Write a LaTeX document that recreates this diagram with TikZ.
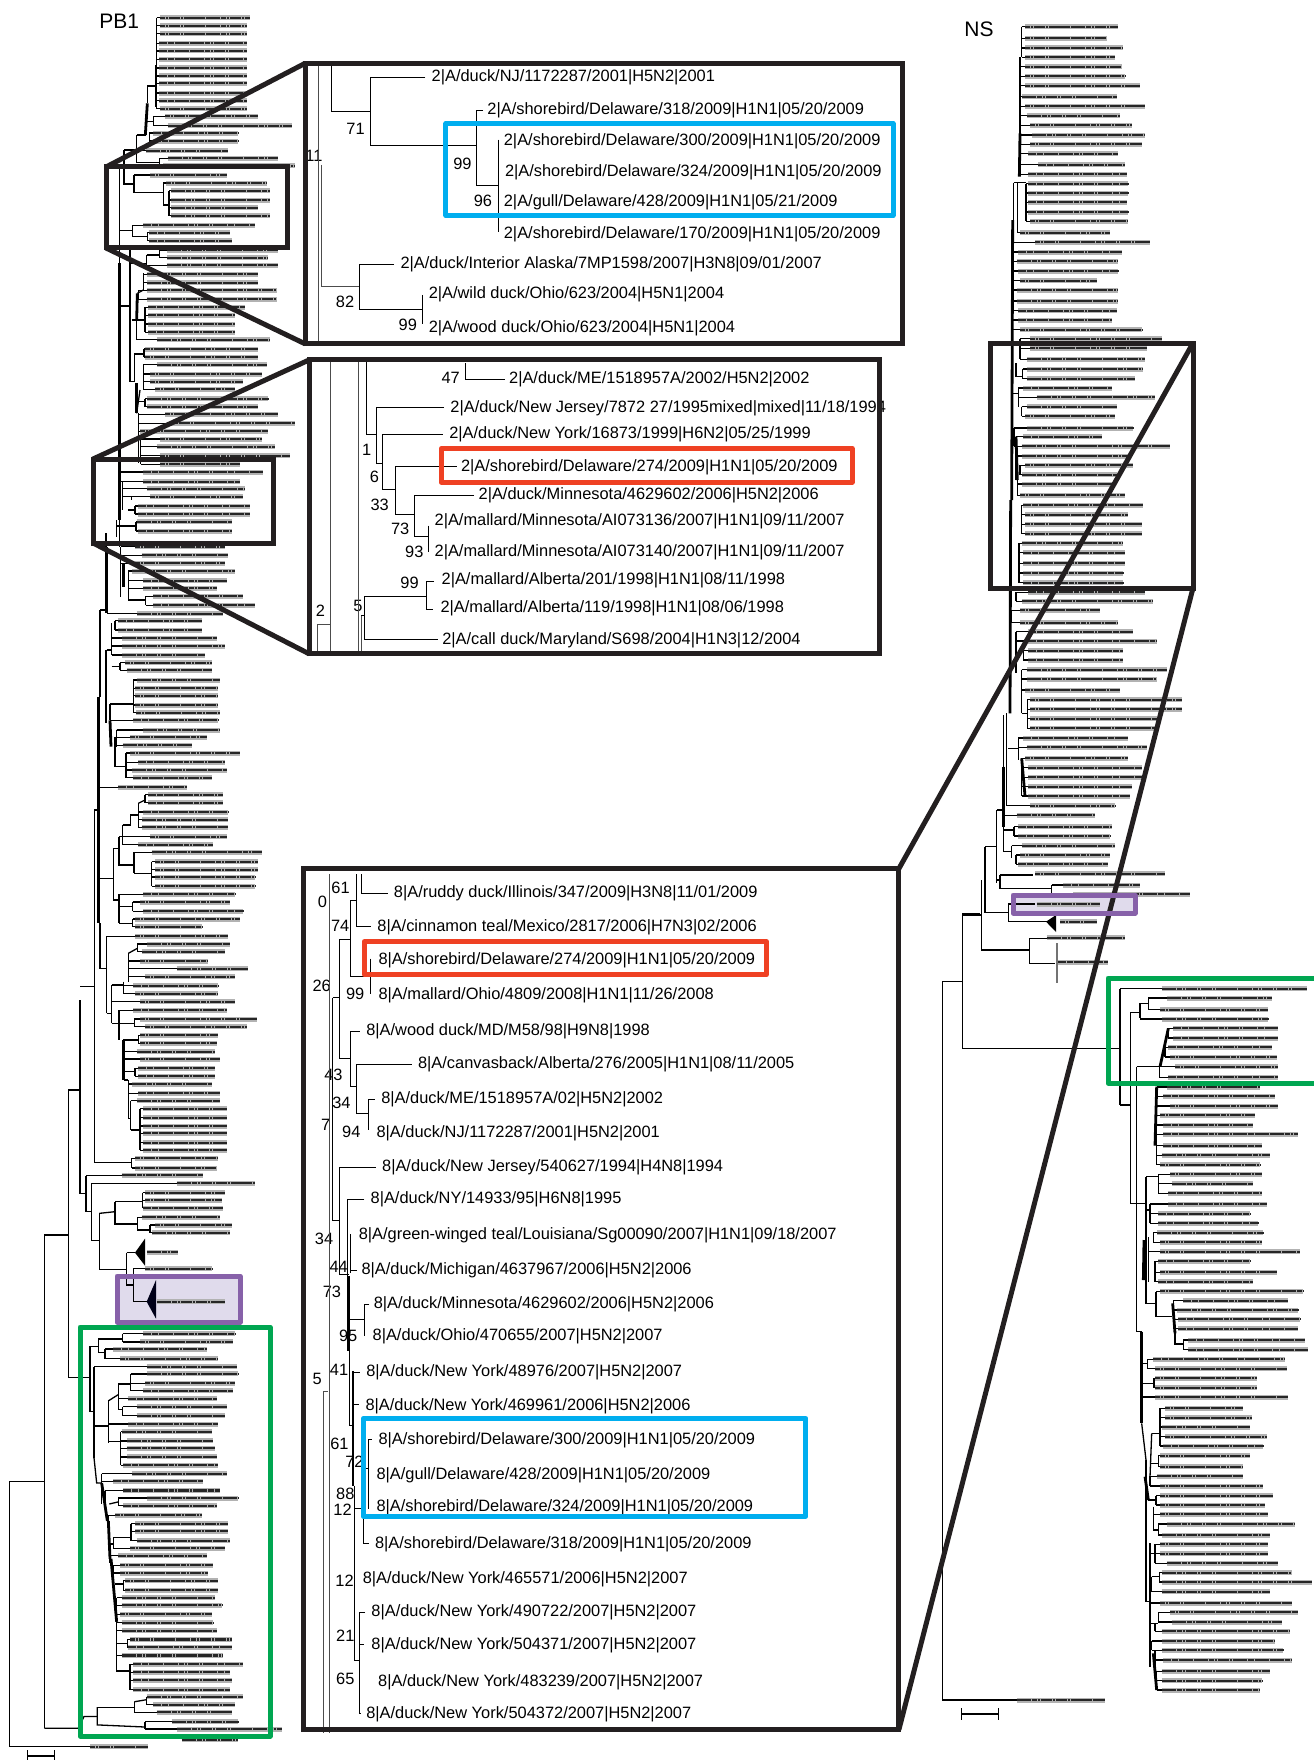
\documentclass[tikz,border=0pt]{standalone}
\usepackage{fontspec}
\setmainfont{Liberation Sans}

\definecolor{boxblack}{HTML}{231F20}
\definecolor{boxblue}{HTML}{00AEEF}
\definecolor{boxred}{HTML}{EF4123}
\definecolor{boxgreen}{HTML}{00A651}
\definecolor{boxpurple}{HTML}{8761A9}
\definecolor{boxlilac}{HTML}{E0DBEC}

\tikzset{
  zoomed/.style 2 args={shift={(#1*.5pt,#2*-.5pt)},x=.16667pt,y=-.16667pt},
  branch/.style={draw=black,line width=.65pt,line cap=square},
  heavy/.style={draw=black,line width=1.4pt},
  thin branch/.style={draw=black!70,line width=.35pt},
  blurtext/.style={draw=black!85,line width=1.05pt,dash pattern=on 2.6pt off .25pt on 1.2pt off .3pt on 3pt off .25pt,
    preaction={draw=black!30,line width=2.5pt,solid}},
  framed/.style={draw=boxblack,line width=2.5pt,line join=miter},
  taxon/.style={anchor=west,inner sep=0pt,yshift=-1pt,font=\fontsize{8.2}{9}\selectfont},
  support/.style={inner sep=0pt,yshift=-.5pt,font=\fontsize{8.2}{9}\selectfont},
  colourbox/.style={line width=2.5pt,line join=round},
  panel lines/.style={branch/.append style={line width=.5pt}},
}

\newcommand{\clade}[4]{%
  \draw[branch] (#1,#2) -- (#1,#3);
  \foreach \xs/\xe/\yy in {#4} {
    \draw[branch] (#1,\yy) -- (\xs,\yy);
    \draw[blurtext] (\xs,\yy) -- (\xe,\yy);
  }
}

\begin{document}
\begin{tikzpicture}[x=.5pt,y=-.5pt]
  \useasboundingbox (0,0) rectangle (1314,1760);

  \fill[boxlilac] (117,1276) rectangle (240,1322);
  \fill[boxlilac] (1013,895) rectangle (1135,913);

  \node[anchor=west,inner sep=0pt,font=\fontsize{10.5}{12}\selectfont] (pbtitle) at (99,21) {PB1};
  \node[anchor=west,inner sep=0pt,font=\fontsize{10.5}{12}\selectfont] (nstitle) at (964,29) {NS};

  % PB1, top
  \begin{scope}[zoomed={0}{0}]
    \clade{470}{53}{326}{480/750/53,480/740/77,480/740/101,478/740/130,478/740/153,478/740/178,478/740/204,478/740/228,478/740/250,478/740/279,478/740/302,480/740/326}
    \draw[heavy] (468,195) -- (468,320);
    \draw[branch] (468,258) -- (442,258) -- (442,310);
    \draw[heavy] (442,310) -- (436,405);
    \clade{460}{349}{377}{495/775/349,503/875/377}
    \draw[branch] (438,365) -- (460,365);
    \clade{448}{399}{423}{460/715/399,460/715/423}
    \draw[branch] (410,405) -- (438,405);
    \clade{410}{405}{488}{437/685/452}
    \draw[branch] (372,450) -- (410,450);
    \draw[branch] (410,488) -- (478,488);
    \clade{478}{475}{497}{503/835/475,490/885/497}
    \draw[branch] (358,500) -- (372,500);
    \draw[branch] (372,450) -- (372,552) -- (402,552);
    \clade{402}{525}{578}{450/680/525}
    \draw[branch] (402,578) -- (490,578);
    \clade{490}{549}{615}{498/800/549}
    \draw[branch] (490,615) -- (507,615);
    \clade{507}{572}{647}{512/810/572,512/810/600,512/775/623,512/810/647}
    \draw[branch] (358,500) -- (358,790);
    \draw[heavy] (358,790) -- (358,1560);
    \draw[branch] (358,692) -- (398,692);
    \clade{398}{676}{710}{430/765/676}
    \draw[branch] (398,710) -- (442,710);
    \clade{442}{698}{722}{448/690/698,448/695/722}
    \draw[branch] (360,918) -- (390,918);
    \draw[branch] (390,745) -- (390,1145) -- (403,1145);
    \draw[branch] (392,790) -- (440,790);
    \clade{478}{751}{773}{500/835/751,500/805/773}
    \draw[branch] (440,765) -- (478,765);
    \clade{440}{765}{796}{500/835/796}
    \clade{430}{820}{870}{440/775/823,440/775/848}
    \draw[branch] (430,870) -- (412,880);
    \draw[heavy] (412,880) -- (410,960);
    \clade{415}{871}{898}{440/830/871,440/830/898}
    \draw[branch] (395,960) -- (435,960);
    \clade{435}{922}{997}{445/735/922,445/705/946,445/705/972,445/705/997}
    \clade{410}{960}{1019}{470/810/1019}
    \clade{403}{1062}{1145}{}
    \draw[branch] (403,1062) -- (432,1062);
    \clade{432}{1047}{1071}{435/775/1047,435/775/1071}
    \draw[heavy] (410,1150) -- (410,1240);
    \draw[branch] (410,1240) -- (420,1170);
    \clade{430}{1094}{1168}{470/800/1094,450/785/1122,450/730/1145,465/705/1168}
    \draw[branch] (410,1205) -- (435,1205);
    \clade{435}{1196}{1220}{440/805/1196,440/775/1220}
    \clade{415}{1240}{1390}{495/835/1243,510/885/1270,420/805/1294}
    \clade{422}{1317}{1393}{480/785/1317,470/825/1340,480/870/1367,480/720/1393}
    \clade{360}{1416}{1445}{430/790/1416,430/720/1445}
    \clade{368}{1445}{1530}{440/735/1466}
    \draw[branch] (368,1490) -- (395,1490);
    \clade{395}{1490}{1500}{450/730/1490}
    \draw[branch] (385,1530) -- (405,1530);
    \clade{405}{1518}{1542}{415/750/1518,415/750/1542}
  \end{scope}

  % PB1, middle
  \begin{scope}[zoomed={0}{520}]
    \draw[branch] (350,0) -- (350,50);
    \draw[branch] (350,18) -- (408,18);
    \clade{408}{5}{33}{410/695/5,415/695/33}
    \draw[branch] (318,40) -- (318,280);
    \draw[branch] (358,0) -- (358,80);
    \clade{362}{80}{230}{405/675/80,425/685/106,405/675/130}
    \draw[heavy] (370,130) -- (370,200);
    \clade{385}{153}{240}{395/705/153,430/680/182,430/650/205}
    \draw[branch] (385,240) -- (437,240);
    \clade{437}{229}{256}{460/730/229,460/765/256}
    \clade{322}{80}{281}{410/670/281}
    \draw[branch] (300,270) -- (322,270);
    \draw[branch] (300,270) -- (300,530);
    \clade{345}{302}{330}{355/605/302,355/605/330}
    \clade{335}{310}{405}{365/650/354,365/675/378,365/615/405}
    \clade{360}{428}{451}{375/635/428,380/635/451}
    \draw[branch] (335,440) -- (360,440);
    \draw[branch] (320,390) -- (335,390);
    \draw[heavy] (318,390) -- (318,500);
    \draw[branch] (318,500) -- (318,610);
    \clade{400}{480}{578}{410/660/480,405/655/505,405/655/527,405/655/555,408/660/578}
    \draw[branch] (330,552) -- (398,552);
    \clade{330}{552}{601}{400/655/601}
    \draw[heavy] (330,601) -- (333,680);
    \draw[branch] (350,630) -- (425,630);
    \clade{350}{630}{680}{428/660/630,390/620/652}
    \clade{345}{650}{740}{368/575/676}
    \draw[branch] (345,740) -- (378,740);
    \clade{378}{699}{773}{390/720/699,415/675/727,395/680/750,400/635/773}
    \draw[heavy] (296,530) -- (296,1210);
    \draw[branch] (297,802) -- (355,802);
    \draw[blurtext] (355,802) -- (560,802);
    \draw[branch] (283,870) -- (297,870);
    \draw[branch] (283,870) -- (283,1560);
    \draw[branch] (297,1075) -- (340,1075);
    \draw[branch] (340,985) -- (340,1140) -- (357,1140);
    \draw[branch] (340,985) -- (357,985);
    \draw[branch] (357,950) -- (357,1035) -- (402,1035);
    \draw[branch] (357,950) -- (368,950);
    \clade{368}{915}{975}{450/680/950,415/640/974}
    \draw[branch] (368,915) -- (392,915) -- (392,885) -- (415,885);
    \clade{415}{850}{922}{430/685/876,425/685/899,425/685/922}
    \clade{435}{824}{848}{445/670/824,445/670/848}
    \draw[branch] (415,850) -- (435,840);
    \clade{402}{997}{1060}{455/785/997}
    \draw[branch] (402,1060) -- (455,1060);
    \clade{455}{1025}{1099}{465/775/1025,465/775/1049,465/765/1071,465/765/1099}
    \clade{357}{1123}{1210}{430/705/1123}
    \draw[branch] (357,1160) -- (398,1160);
    \clade{398}{1146}{1174}{420/690/1146,430/730/1174}
    \draw[branch] (357,1210) -- (398,1210);
    \clade{398}{1197}{1220}{405/720/1197,405/605/1220}
    \draw[branch] (300,1210) -- (300,1345) -- (320,1345);
    \clade{320}{1249}{1480}{405/685/1249}
    \clade{385}{1300}{1385}{420/625/1323,530/745/1346,435/705/1370}
    \clade{412}{1272}{1295}{440/690/1272,425/675/1295}
    \draw[branch] (385,1300) -- (412,1285);
    \clade{370}{1385}{1421}{400/655/1397,405/655/1421}
    \draw[branch] (320,1480) -- (335,1480);
    \draw[branch] (335,1395) -- (370,1395);
    \clade{335}{1395}{1510}{420/705/1445}
    \draw[branch] (240,1400) -- (283,1400);
  \end{scope}

  % PB1, lower
  \begin{scope}[zoomed={0}{1000}]
    \draw[branch] (335,70) -- (357,70);
    \clade{357}{31}{105}{400/680/31}
    \draw[heavy] (357,70) -- (357,120);
    \draw[branch] (357,70) -- (403,70);
    \clade{403}{57}{80}{420/770/57,435/740/80}
    \draw[branch] (370,120) -- (415,120);
    \clade{415}{106}{130}{420/655/106,420/650/130}
    \draw[heavy] (370,120) -- (370,240);
    \clade{370}{155}{177}{410/645/155,420/660/177}
    \draw[branch] (372,215) -- (405,215);
    \clade{405}{205}{229}{415/645/205,415/645/229}
    \draw[branch] (372,240) -- (385,240);
    \clade{385}{240}{355}{395/635/252,415/660/280}
    \draw[branch] (385,355) -- (392,355);
    \clade{392}{302}{390}{410/660/302}
    \draw[branch] (392,390) -- (420,390);
    \clade{420}{326}{451}{430/680/326,430/680/353,430/680/378,430/680/400,430/680/428,430/680/451}
    \draw[branch] (283,0) -- (283,488) -- (395,488);
    \clade{395}{475}{504}{405/655/475,405/650/504}
    \draw[branch] (240,0) -- (240,580) -- (258,580);
    \draw[branch] (205,270) -- (240,270);
    \draw[branch] (258,527) -- (258,635) -- (275,635);
    \draw[branch] (258,527) -- (365,527);
    \draw[blurtext] (365,526) -- (610,526);
    \draw[branch] (275,550) -- (275,722) -- (298,722);
    \draw[branch] (275,550) -- (530,550);
    \draw[blurtext] (530,550) -- (765,550);
    \draw[branch] (298,640) -- (298,808) -- (380,808);
    \draw[branch] (298,640) -- (345,635);
    \draw[branch] (345,605) -- (345,672) -- (412,672);
    \draw[branch] (345,605) -- (428,605);
    \clade{428}{578}{624}{435/675/578,435/665/601,430/670/624}
    \clade{412}{652}{690}{425/660/652}
    \draw[branch] (412,690) -- (450,690);
    \clade{450}{675}{698}{465/695/675,455/690/698}
    \draw[branch] (380,758) -- (380,855) -- (400,855);
    \draw[branch] (380,758) -- (405,758);
    \fill[black] (405,758) -- (435,716) -- (435,797) -- cycle;
    \draw[blurtext] (440,757) -- (535,757);
    \clade{400}{808}{905}{435/635/806}
    \draw[branch] (400,905) -- (440,905);
    \fill[black!90!blue] (440,905) -- (468,840) -- (468,956) -- cycle;
    \draw[blurtext] (470,905) -- (675,905);
    \draw[branch] (205,270) -- (205,1134);
    \draw[branch] (133,705) -- (205,705);
    \draw[branch] (133,705) -- (133,2184);
  \end{scope}

  % PB1, green part
  \begin{scope}[shift={(0pt,-550pt)},x=.16667pt,y=-.2104pt]
    \draw[branch] (207,660) -- (270,660);
    \draw[branch] (270,585) -- (270,740) -- (282,740);
    \draw[branch] (270,585) -- (295,585);
    \draw[branch] (295,568) -- (295,600) -- (315,600);
    \draw[branch] (295,568) -- (368,568);
    \clade{368}{555}{575}{430/705/555,420/700/575}
    \clade{315}{592}{615}{340/620/592,360/655/615}
    \clade{282}{634}{850}{440/710/634}
    \draw[heavy] (282,770) -- (282,850);
    \draw[branch] (282,775) -- (325,775);
    \clade{325}{715}{815}{385/655/770}
    \draw[branch] (325,715) -- (355,700);
    \clade{355}{675}{735}{385/650/710}
    \draw[branch] (355,675) -- (392,675);
    \clade{392}{651}{691}{440/715/651,435/705/673,430/700/691}
    \draw[branch] (355,735) -- (368,735);
    \clade{368}{729}{750}{410/680/729,410/675/750}
    \draw[branch] (325,812) -- (362,812);
    \clade{362}{788}{868}{365/635/788,380/640/810,380/645/828,380/650/848,370/655/868}
    \draw[branch] (282,850) -- (290,910) -- (305,910);
    \clade{305}{888}{960}{395/680/888,340/610/906}
    \clade{315}{928}{960}{370/660/928}
    \draw[heavy] (305,910) -- (322,1000);
    \draw[branch] (328,960) -- (355,955);
    \clade{355}{946}{964}{440/715/946,370/650/964}
    \clade{325}{987}{1000}{345/605/987}
    \draw[heavy] (325,1000) -- (330,1090);
    \clade{340}{1040}{1065}{390/675/1065}
    \draw[branch] (330,1055) -- (340,1055);
    \draw[branch] (340,1040) -- (393,1040);
    \clade{393}{1007}{1047}{405/685/1007,405/685/1025,410/690/1047}
    \clade{330}{1083}{1100}{355/620/1083}
    \draw[heavy] (333,1090) -- (350,1240);
    \clade{340}{1106}{1124}{360/640/1106,360/625/1124}
    \draw[branch] (345,1150) -- (370,1150);
    \clade{370}{1142}{1165}{375/655/1142,375/655/1165}
    \clade{350}{1183}{1360}{365/645/1183,365/665/1201,360/635/1222,365/640/1242,365/650/1261,365/670/1320}
    \draw[branch] (350,1292) -- (382,1292);
    \clade{382}{1282}{1300}{390/695/1282,385/695/1300}
    \draw[branch] (350,1357) -- (390,1357);
    \clade{390}{1341}{1401}{400/730/1341,400/690/1360,400/695/1379,400/690/1401}
    \draw[branch] (133,1493) -- (235,1493) -- (252,1465) -- (292,1465);
    \draw[branch] (292,1443) -- (292,1485) -- (435,1490);
    \draw[branch] (292,1443) -- (403,1443);
    \clade{403}{1430}{1455}{470/695/1455}
    \draw[branch] (403,1430) -- (440,1425);
    \clade{440}{1418}{1437}{440/730/1418,460/705/1437}
    \clade{435}{1477}{1495}{515/715/1477,530/845/1495}
    \draw[blurtext] (545,1520) -- (715,1520);
    \draw[branch] (28,907) -- (133,907);
    \draw[branch] (28,907) -- (28,1537) -- (270,1537);
    \draw[blurtext] (270,1537) -- (445,1537);
  \end{scope}
  \draw[|-|,line width=.6pt] (27,1756) -- (55,1756);

  % NS, top
  \begin{scope}[zoomed={940}{0}]
    \clade{245}{80}{172}{255/535/80,255/500/115,255/550/144,255/525/172}
    \clade{240}{172}{461}{255/545/200,255/555/229,255/600/257,245/530/290,255/615/319,260/540/347,270/575/376,275/615/405,270/605/433,265/535/461}
    \draw[heavy] (240,200) -- (240,400);
    \draw[heavy] (240,400) -- (238,530);
    \clade{240}{461}{523}{295/555/494,265/560/523}
    \draw[branch] (222,548) -- (248,548);
    \draw[branch] (248,548) -- (258,548);
    \clade{258}{551}{664}{265/565/551,265/565/579,265/560/607,265/565/636,270/565/664}
    \clade{233}{548}{698}{240/510/698}
    \draw[heavy] (218,660) -- (215,1500);
    \draw[branch] (220,548) -- (220,660);
    \clade{218}{660}{1016}{285/630/727,235/545/756,230/535/784,235/535/813,240/470/842,230/535/870,230/535/903,235/530/932,235/515/960,240/605/989}
    \clade{240}{1016}{1078}{270/665/1016,270/620/1045,260/615/1078}
    \draw[branch] (218,1030) -- (240,1030);
    \draw[branch] (228,1090) -- (228,1130) -- (248,1130);
    \clade{248}{1107}{1136}{260/610/1107,260/585/1136}
    \draw[branch] (218,1180) -- (235,1180);
    \clade{235}{1164}{1220}{250/515/1164,290/645/1192}
    \clade{245}{1220}{1249}{260/530/1220,255/525/1249}
    \clade{222}{1284}{1339}{260/580/1284,245/690/1339}
    \clade{228}{1310}{1440}{250/485/1310,245/570/1368}
    \draw[heavy] (228,1310) -- (232,1440);
    \clade{240}{1396}{1424}{255/580/1396,245/530/1424}
    \clade{232}{1440}{1486}{245/525/1452,240/555/1486}
  \end{scope}

  % NS, middle
  \begin{scope}[zoomed={940}{500}]
    \clade{245}{16}{101}{250/610/16,255/565/44,255/605/73,255/605/101}
    \clade{237}{130}{248}{245/550/130,250/555/158,250/555/190,250/550/219,250/550/248}
    \draw[heavy] (212,0) -- (210,640);
    \clade{228}{277}{304}{265/615/277,245/640/304}
    \clade{215}{331}{368}{240/480/331,240/535/368}
    \clade{228}{395}{520}{265/580/395,265/650/423}
    \clade{250}{452}{480}{265/550/452,265/550/480}
    \clade{245}{509}{640}{260/680/509,260/650/537,255/540/570}
    \draw[branch] (245,640) -- (262,640);
    \clade{262}{599}{685}{270/725/599,270/725/628,270/650/656,270/650/685}
    \draw[branch] (190,645) -- (190,930);
    \draw[heavy] (190,800) -- (190,980);
    \draw[branch] (200,640) -- (200,917);
    \draw[branch] (200,917) -- (270,917);
    \draw[blurtext] (270,917) -- (525,917);
    \draw[branch] (205,745) -- (235,745);
    \clade{235}{714}{780}{250/565/714,260/620/742}
    \clade{245}{775}{888}{255/565/775,265/605/803,265/605/832,265/575/860,265/570/888}
    \draw[heavy] (245,775) -- (255,888);
    \draw[branch] (190,946) -- (230,946);
    \draw[blurtext] (230,946) -- (465,946);
    \draw[branch] (190,990) -- (222,990);
    \clade{222}{980}{1008}{235/515/980,235/510/1008}
    \draw[branch] (190,980) -- (190,1055) -- (215,1055);
    \clade{215}{1037}{1075}{245/525/1037}
    \clade{228}{1065}{1093}{240/510/1065,235/505/1093}
    \draw[branch] (190,930) -- (170,930);
    \draw[branch] (170,930) -- (170,1148);
    \draw[branch] (180,1125) -- (280,1125);
    \draw[blurtext] (285,1121) -- (675,1121);
    \draw[branch] (170,1140) -- (180,1140);
    \draw[branch] (180,1125) -- (180,1165) -- (335,1165);
    \clade{335}{1155}{1183}{370/600/1155,400/750/1183}
    \draw[branch] (135,1040) -- (170,1040);
    \draw[branch] (135,1040) -- (135,1237) -- (205,1237);
    \draw[branch] (205,1212) -- (205,1265) -- (320,1265);
    \draw[branch] (205,1212) -- (285,1212);
    \draw[blurtext] (290,1213) -- (480,1213);
    \fill[black] (318,1265) -- (348,1245) -- (348,1296) -- cycle;
    \draw[blurtext] (360,1265) -- (470,1265);
    \draw[branch] (125,1140) -- (125,1350) -- (268,1350);
    \draw[branch] (268,1315) -- (268,1390) -- (345,1390);
    \draw[branch] (268,1315) -- (320,1315);
    \draw[blurtext] (320,1313) -- (555,1313);
    \draw[line width=1pt,black!55] (350,1330) -- (350,1450);
    \draw[blurtext] (355,1387) -- (505,1387);
    \draw[branch] (68,1245) -- (125,1245);
    \draw[branch] (68,1245) -- (68,1447);
  \end{scope}

  % NS, lower part
  \begin{scope}[zoomed={900}{800}]
    \draw[branch] (127,545) -- (187,545);
    \draw[branch] (127,545) -- (127,2700) -- (350,2700);
    \draw[blurtext] (350,2700) -- (615,2700);
    \draw[branch] (187,340) -- (187,745) -- (660,745);
    \draw[branch] (187,340) -- (240,340);
    \clade{660}{566}{915}{785/1220/566}
    \draw[branch] (660,915) -- (692,915);
    \draw[branch] (692,637) -- (692,1210) -- (738,1210);
    \draw[branch] (692,637) -- (720,637);
    \clade{720}{610}{655}{785/1105/657}
    \draw[branch] (720,610) -- (745,610);
    \clade{745}{597}{627}{800/1115/594,780/1105/629}
    \draw[branch] (710,800) -- (710,1595) -- (725,1595);
    \draw[branch] (710,800) -- (780,800);
    \draw[heavy] (805,685) -- (780,800);
    \clade{805}{685}{714}{820/1135/685,820/1135/714}
    \clade{795}{742}{771}{805/1115/742,810/1130/771}
    \clade{778}{800}{832}{825/1135/800,805/1135/832}
    \draw[heavy] (770,860) -- (765,1037);
    \clade{770}{861}{1094}{800/1080/861,790/1125/889,810/1135/918,780/1065/946,790/1060/975,790/1195/1003,790/1085/1037,785/1110/1066,780/1080/1094}
    \clade{775}{1123}{1180}{810/1085/1123,815/1060/1151,805/1085/1180}
    \draw[branch] (738,1130) -- (775,1130);
    \draw[branch] (738,1130) -- (738,1240);
  \end{scope}

  % NS, right tree
  \begin{scope}[zoomed={900}{1200}]
    \clade{750}{12}{70}{805/1100/12,775/1050/41,775/1075/70}
    \draw[branch] (738,30) -- (750,30);
    \draw[branch] (738,0) -- (738,310) -- (768,310);
    \draw[heavy] (732,120) -- (730,240);
    \clade{760}{98}{127}{770/1090/98,780/1085/127}
    \clade{745}{112}{245}{780/1200/155}
    \clade{765}{184}{245}{775/1050/184,780/1130/217,775/1060/245}
    \clade{768}{275}{350}{780/1210/274}
    \draw[branch] (768,350) -- (815,350);
    \draw[heavy] (818,310) -- (825,400);
    \clade{820}{302}{386}{850/1165/302,830/1195/330,835/1200/358,835/1195/386}
    \draw[branch] (825,400) -- (825,432) -- (850,432);
    \clade{850}{420}{449}{865/1215/420,865/1225/449}
    \draw[heavy] (725,395) -- (725,670);
    \draw[branch] (725,490) -- (742,490);
    \clade{742}{478}{506}{760/1155/478,765/1160/506}
    \draw[branch] (725,550) -- (762,550);
    \clade{762}{535}{563}{765/1070/535,765/1070/563}
    \draw[branch] (725,591) -- (765,591);
    \draw[blurtext] (765,591) -- (1165,591);
    \draw[branch] (725,670) -- (738,780);
    \draw[heavy] (735,830) -- (745,900);
    \draw[branch] (738,780) -- (738,1205) -- (750,1205);
    \clade{780}{625}{738}{795/1030/625,795/1055/653,785/1050/681,795/1100/710,790/1090/738}
    \draw[branch] (755,700) -- (778,700);
    \draw[branch] (755,700) -- (750,830);
    \clade{775}{767}{800}{780/1050/767,780/1030/800}
    \draw[branch] (750,790) -- (775,790);
    \clade{750}{829}{858}{770/1030/829,780/1090/858}
    \draw[branch] (745,900) -- (768,900);
    \clade{768}{887}{915}{780/1120/887,780/1095/915}
    \clade{760}{920}{990}{780/1105/943}
    \draw[branch] (760,990) -- (775,990);
    \clade{775}{972}{1005}{800/1185/972,785/1110/1005}
    \clade{765}{1033}{1090}{780/1105/1033,780/1105/1061,800/1135/1090}
    \draw[branch] (750,1060) -- (765,1060);
    \clade{750}{1030}{1209}{780/1175/1209}
    \clade{755}{1130}{1175}{785/1110/1175}
    \draw[branch] (755,1130) -- (778,1130);
    \clade{778}{1118}{1146}{785/1175/1118,785/1235/1146}
    \draw[branch] (750,1205) -- (750,1400);
    \draw[branch] (750,1270) -- (775,1270);
    \clade{775}{1237}{1266}{810/1195/1237,815/1145/1266}
    \clade{765}{1270}{1294}{785/1170/1294}
    \clade{755}{1323}{1351}{785/1125/1323,785/1150/1351}
    \clade{765}{1351}{1400}{790/1175/1380}
    \draw[heavy] (760,1360) -- (770,1470);
    \clade{770}{1414}{1470}{785/1110/1414,785/1085/1442,785/1080/1470}
  \end{scope}
  \draw[|-|,line width=.6pt] (961,1714) -- (999,1714);

  % first panel
  \begin{scope}[x=.2934pt,y=-.2168pt,panel lines]
    \node[taxon] (na1) at (735,174) {2|A/duck/NJ/1172287/2001|H5N2|2001};
    \node[taxon] (na2) at (830,250) {2|A/shorebird/Delaware/318/2009|H1N1|05/20/2009};
    \node[taxon] (na3) at (858,322) {2|A/shorebird/Delaware/300/2009|H1N1|05/20/2009};
    \node[taxon] (na4) at (860,393) {2|A/shorebird/Delaware/324/2009|H1N1|05/20/2009};
    \node[taxon] (na5) at (858,462) {2|A/gull/Delaware/428/2009|H1N1|05/21/2009};
    \node[taxon] (na6) at (858,536) {2|A/shorebird/Delaware/170/2009|H1N1|05/20/2009};
    \node[taxon] (na7) at (682,605) {2|A/duck/Interior Alaska/7MP1598/2007|H3N8|09/01/2007};
    \node[taxon] (na8) at (730,675) {2|A/wild duck/Ohio/623/2004|H5N1|2004};
    \node[taxon] (na9) at (730,753) {2|A/wood duck/Ohio/623/2004|H5N1|2004};
    \foreach \x/\y/\v [count=\i] in {535/358/11,606/296/71,788/375/99,823/460/96,588/695/82,695/748/99}
      \node[support] (sa\i) at (\x,\y) {\v};
    \draw[thin branch] (543,146) -- (543,793);
    \draw[thin branch] (548,380) -- (548,660) -- (612,660);
    \draw[branch,shorten <=3pt] (na1.west) -| (632,258) -- (565,258) -- (565,146);
    \draw[branch] (632,258) -- (632,336) -- (812,336);
    \draw[branch,shorten <=2pt] (na2.west) -| (812,428) -- (850,428);
    \draw[branch] (850,322) -- (850,536);
    \draw[branch,shorten <=3pt] (na7.west) -| (612,714) -- (720,714);
    \draw[branch] (720,680) -- (720,748);
    \draw[boxblue,colourbox] (760,285) rectangle (1522,497);
    \draw[framed] (520,146) rectangle (1538,793);
    \coordinate (panelAnw) at (520,146);
    \coordinate (panelAsw) at (520,793);
  \end{scope}

  % second panel
  \begin{scope}[x=.2934pt,y=-.2168pt,panel lines]
    \node[taxon] (nb1) at (867,870) {2|A/duck/ME/1518957A/2002/H5N2|2002};
    \node[taxon] (nb2) at (767,936) {2|A/duck/New Jersey/7872 27/1995mixed|mixed|11/18/1994};
    \node[taxon] (nb3) at (765,997) {2|A/duck/New York/16873/1999|H6N2|05/25/1999};
    \node[taxon] (nb4) at (785,1072) {2|A/shorebird/Delaware/274/2009|H1N1|05/20/2009};
    \node[taxon] (nb5) at (815,1138) {2|A/duck/Minnesota/4629602/2006|H5N2|2006};
    \node[taxon] (nb6) at (740,1198) {2|A/mallard/Minnesota/AI073136/2007|H1N1|09/11/2007};
    \node[taxon] (nb7) at (740,1268) {2|A/mallard/Minnesota/AI073140/2007|H1N1|09/11/2007};
    \node[taxon] (nb8) at (752,1334) {2|A/mallard/Alberta/201/1998|H1N1|08/11/1998};
    \node[taxon] (nb9) at (750,1399) {2|A/mallard/Alberta/119/1998|H1N1|08/06/1998};
    \node[taxon] (nb10) at (753,1471) {2|A/call duck/Maryland/S698/2004|H1N3|12/2004};
    \foreach \x/\y/\v [count=\i] in {768/870/47,625/1035/1,638/1097/6,647/1162/33,682/1217/73,706/1270/93,698/1343/99,610/1396/5,546/1406/2}
      \node[support] (sb\i) at (\x,\y) {\v};
    \draw[thin branch] (563,830) -- (563,1508);
    \draw[thin branch] (610,830) -- (610,1508);
    \draw[thin branch] (540,1508) -- (540,1440) -- (563,1440);
    \draw[thin branch] (615,1420) -- (615,1508);
    \draw[branch] (793,838) -- (793,868);
    \draw[branch,shorten <=2pt] (nb1.west) -| (793,868);
    \draw[branch] (624,830) -- (624,1003) -- (642,1003);
    \draw[branch,shorten <=3pt] (nb2.west) -| (642,1068) -- (652,1068);
    \draw[branch,shorten <=3pt] (nb3.west) -| (652,1068);
    \draw[branch] (652,1035) -- (652,1130) -- (674,1130);
    \draw[branch,shorten <=2pt] (nb4.west) -| (674,1187) -- (707,1187);
    \draw[branch,shorten <=2pt] (nb5.west) -| (707,1238) -- (730,1238);
    \draw[branch] (730,1212) -- (730,1272);
    \draw[branch] (622,1375) -- (727,1375);
    \draw[branch,shorten <=2pt] (nb10.west) -| (622,1375);
    \draw[branch] (622,1420) -- (615,1420);
    \draw[branch] (740,1340) -- (727,1340) -- (727,1406) -- (738,1406);
    \draw[boxred,colourbox] (752,1034) rectangle (1452,1112);
    \draw[framed] (527,830) rectangle (1498,1508);
    \coordinate (panelBnw) at (527,830);
    \coordinate (panelBsw) at (527,1508);
  \end{scope}

  % third panel
  \begin{scope}[shift={(145pt,-430pt)},x=.1977pt,y=-.287pt,panel lines]
    \node[taxon] (nc1) at (262,54) {8|A/ruddy duck/Illinois/347/2009|H3N8|11/01/2009};
    \node[taxon] (nc2) at (220,113) {8|A/cinnamon teal/Mexico/2817/2006|H7N3|02/2006};
    \node[taxon] (nc3) at (223,172) {8|A/shorebird/Delaware/274/2009|H1N1|05/20/2009};
    \node[taxon] (nc4) at (223,233) {8|A/mallard/Ohio/4809/2008|H1N1|11/26/2008};
    \node[taxon] (nc5) at (192,295) {8|A/wood duck/MD/M58/98|H9N8|1998};
    \node[taxon] (nc6) at (323,352) {8|A/canvasback/Alberta/276/2005|H1N1|08/11/2005};
    \node[taxon] (nc7) at (230,414) {8|A/duck/ME/1518957A/02|H5N2|2002};
    \node[taxon] (nc8) at (218,473) {8|A/duck/NJ/1172287/2001|H5N2|2001};
    \node[taxon] (nc9) at (232,532) {8|A/duck/New Jersey/540627/1994|H4N8|1994};
    \node[taxon] (nc10) at (203,588) {8|A/duck/NY/14933/95|H6N8|1995};
    \node[taxon] (nc11) at (173,650) {8|A/green-winged teal/Louisiana/Sg00090/2007|H1N1|09/18/2007};
    \node[taxon] (nc12) at (180,712) {8|A/duck/Michigan/4637967/2006|H5N2|2006};
    \node[taxon] (nc13) at (211,770) {8|A/duck/Minnesota/4629602/2006|H5N2|2006};
    \node[taxon] (nc14) at (208,827) {8|A/duck/Ohio/470655/2007|H5N2|2007};
    \node[taxon] (nc15) at (192,889) {8|A/duck/New York/48976/2007|H5N2|2007};
    \node[taxon] (nc16) at (190,949) {8|A/duck/New York/469961/2006|H5N2|2006};
    \node[taxon] (nc17) at (223,1008) {8|A/shorebird/Delaware/300/2009|H1N1|05/20/2009};
    \node[taxon] (nc18) at (218,1068) {8|A/gull/Delaware/428/2009|H1N1|05/20/2009};
    \node[taxon] (nc19) at (218,1124) {8|A/shorebird/Delaware/324/2009|H1N1|05/20/2009};
    \node[taxon] (nc20) at (214,1188) {8|A/shorebird/Delaware/318/2009|H1N1|05/20/2009};
    \node[taxon] (nc21) at (183,1249) {8|A/duck/New York/465571/2006|H5N2|2007};
    \node[taxon] (nc22) at (205,1307) {8|A/duck/New York/490722/2007|H5N2|2007};
    \node[taxon] (nc23) at (205,1365) {8|A/duck/New York/504371/2007|H5N2|2007};
    \node[taxon] (nc24) at (222,1429) {8|A/duck/New York/483239/2007|H5N2|2007};
    \node[taxon] (nc25) at (192,1485) {8|A/duck/New York/504372/2007|H5N2|2007};
    \foreach \x/\y/\v [count=\i] in {128/47/61,82/72/0,127/113/74,80/218/26,165/232/99,110/372/43,130/422/34,90/460/7,155/471/94,86/659/34,123/707/44,106/751/73,147/827/95,124/886/41,69/903/5,125/1015/61,163/1046/72,140/1102/88,133/1131/12,138/1254/12,140/1349/21,140/1425/65}
      \node[support] (sc\i) at (\x,\y) {\v};
    \draw[draw=black!70,line width=.9pt] (100,25) -- (100,640);
    \draw[thin branch] (100,640) -- (100,1520);
    \draw[thin branch] (85,1520) -- (85,925) -- (97,925);
    \draw[branch,shorten <=3pt] (nc1.west) -| (180,25);
    \draw[branch,shorten <=3pt] (nc2.west) -| (167,25);
    \draw[branch] (153,70) -- (167,70);
    \draw[branch] (153,70) -- (153,203) -- (204,203);
    \draw[line width=.8pt] (204,172) -- (204,233);
    \draw[branch] (126,138) -- (153,138);
    \draw[branch] (126,138) -- (126,345) -- (153,345);
    \draw[branch,shorten <=3pt] (nc5.west) -| (153,395) -- (167,395);
    \draw[branch,shorten <=3pt] (nc6.west) -| (167,442) -- (198,442);
    \draw[branch,shorten <=3pt] (nc7.west) -| (198,470);
    \draw[branch] (108,240) -- (126,240);
    \draw[branch] (108,240) -- (108,628) -- (125,628);
    \draw[branch,shorten <=3pt] (nc9.west) -| (125,722) -- (150,722);
    \draw[branch,shorten <=3pt] (nc10.west) -| (145,850);
    \draw[branch] (153,652) -- (153,720);
    \draw[branch,shorten <=2pt] (nc12.west) -| (153,720);
    \draw[line width=1.1pt] (148,725) -- (148,855);
    \draw[branch] (150,800) -- (188,800);
    \draw[branch,shorten <=2pt] (nc13.west) -| (188,830);
    \draw[branch] (150,855) -- (150,985) -- (160,985);
    \draw[line width=1pt] (160,890) -- (160,1090);
    \draw[branch,shorten <=3pt] (nc15.west) -| (160,890);
    \draw[branch] (160,948) -- (175,948);
    \draw[branch] (163,1090) -- (163,1395) -- (177,1395);
    \draw[branch] (163,1130) -- (185,1130);
    \draw[branch,shorten <=3pt] (nc20.west) -| (185,1060) -- (198,1060);
    \draw[branch] (198,1010) -- (208,1010);
    \draw[branch] (198,1010) -- (198,1130);
    \draw[branch,shorten <=3pt] (nc22.west) -| (177,1487);
    \draw[branch] (177,1367) -- (187,1367);
    \draw[branch] (177,1487) -- (180,1487);
    \draw[boxred,colourbox] (188,142) rectangle (1205,200);
    \draw[boxblue,colourbox] (185,973) rectangle (1305,1143);
    \draw[framed] (35,15) rectangle (1540,1515);
    \coordinate (panelCne) at (1540,15);
    \coordinate (panelCse) at (1540,1515);
  \end{scope}

  % boxes in the trees
  \draw[framed] (106,167) rectangle (287,248);
  \draw[framed] (93,459) rectangle (273,543);
  \draw[framed] (990,343) rectangle (1193,588);
  \coordinate (selAnw) at (106,167);
  \coordinate (selAsw) at (106,248);
  \coordinate (selBnw) at (93,459);
  \coordinate (selBsw) at (93,543);
  \coordinate (selCne) at (1193,343);
  \coordinate (selCse) at (1193,588);
  \draw[framed] (selAnw) -- (panelAnw);
  \draw[framed] (selAsw) -- (panelAsw);
  \draw[framed] (selBnw) -- (panelBnw);
  \draw[framed] (selBsw) -- (panelBsw);
  \draw[framed] (selCne) -- (panelCne);
  \draw[framed] (selCse) -- (panelCse);
  \draw[boxpurple,colourbox] (117,1276) rectangle (240,1322);
  \draw[boxpurple,colourbox] (1013,895) rectangle (1135,913);
  \draw[boxgreen,colourbox] (80,1327) rectangle (270,1736);
  \draw[boxgreen,colourbox] (1314,978) -- (1108,978) -- (1108,1083) -- (1314,1083);
\end{tikzpicture}
\end{document}
